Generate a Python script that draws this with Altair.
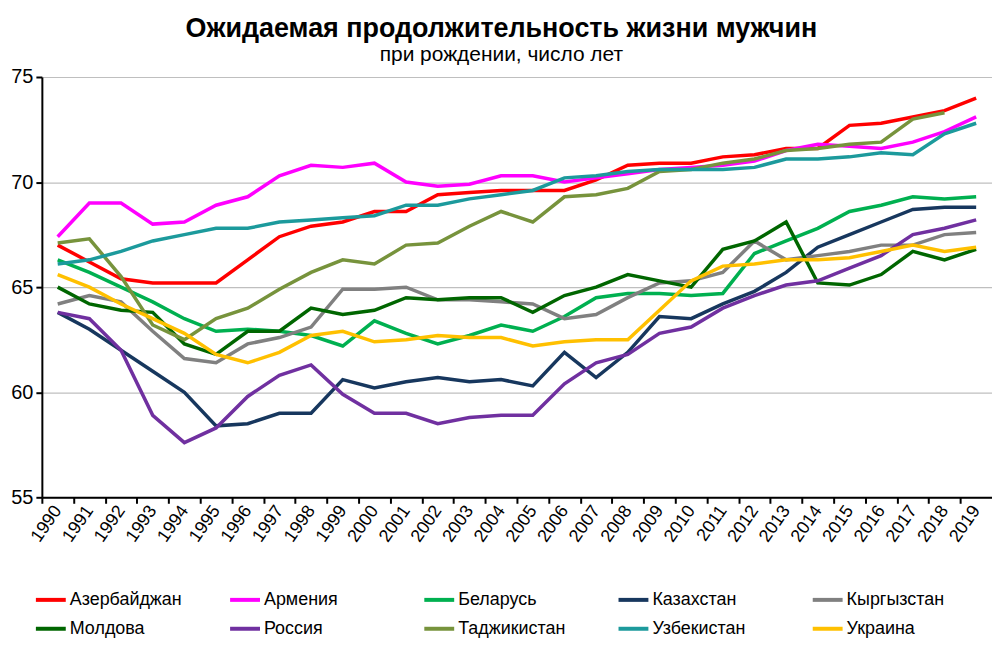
import altair as alt
import pandas as pd

years = list(range(1990, 2020))

countries = ["Азербайджан", "Армения", "Беларусь", "Казахстан", "Кыргызстан",
             "Молдова", "Россия", "Таджикистан", "Узбекистан", "Украина"]
colors = ["#FF0000", "#FF00FF", "#00B050", "#17375E", "#808080",
          "#006600", "#7030A0", "#77933C", "#1C9A9C", "#FFC000"]

azerbaijan = [67.0, 66.2, 65.4, 65.2, 65.2, 65.2, 66.3, 67.4, 67.9, 68.1, 68.6, 68.6, 69.4, 69.5, 69.6,
              69.6, 69.6, 70.1, 70.8, 70.9, 70.9, 71.2, 71.3, 71.6, 71.6, 72.7, 72.8, 73.1, 73.4, 74.0]
armenia = [67.4, 69.0, 69.0, 68.0, 68.1, 68.9, 69.3, 70.3, 70.8, 70.7, 70.9, 70.0, 69.8, 69.9, 70.3,
           70.3, 70.0, 70.2, 70.4, 70.6, 70.7, 70.8, 71.0, 71.5, 71.8, 71.7, 71.6, 71.9, 72.4, 73.1]
belarus = [66.3, 65.7, 65.0, 64.3, 63.5, 62.9, 63.0, 62.9, 62.7, 62.2, 63.4, 62.8, 62.3, 62.7, 63.2,
           62.9, 63.6, 64.5, 64.7, 64.7, 64.6, 64.7, 66.6, 67.2, 67.8, 68.6, 68.9, 69.3, 69.2, 69.3]
kazakhstan = [63.8, 63.0, 62.0, 61.0, 60.0, 58.4, 58.5, 59.0, 59.0, 60.6, 60.2, 60.5, 60.7, 60.5, 60.6,
              60.3, 61.9, 60.7, 61.9, 63.6, 63.5, 64.2, 64.8, 65.7, 66.9, 67.5, 68.1, 68.7, 68.8, 68.8]
kyrgyzstan = [64.2, 64.6, 64.3, 62.9, 61.6, 61.4, 62.3, 62.6, 63.1, 64.9, 64.9, 65.0, 64.4, 64.4, 64.3,
              64.2, 63.5, 63.7, 64.5, 65.2, 65.3, 65.7, 67.2, 66.3, 66.5, 66.7, 67.0, 67.0, 67.5, 67.6]
moldova = [65.0, 64.2, 63.9, 63.8, 62.3, 61.8, 62.9, 62.9, 64.0, 63.7, 63.9, 64.5, 64.4, 64.5, 64.5,
           63.8, 64.6, 65.0, 65.6, 65.3, 65.0, 66.8, 67.2, 68.1, 65.2, 65.1, 65.6, 66.7, 66.3, 66.8]
russia = [63.8, 63.5, 62.0, 58.9, 57.6, 58.3, 59.8, 60.8, 61.3, 59.9, 59.0, 59.0, 58.5, 58.8, 58.9,
          58.9, 60.4, 61.4, 61.8, 62.8, 63.1, 64.0, 64.6, 65.1, 65.3, 65.9, 66.5, 67.5, 67.8, 68.2]
tajikistan = [67.1, 67.3, 65.5, 63.2, 62.5, 63.5, 64.0, 64.9, 65.7, 66.3, 66.1, 67.0, 67.1, 67.9, 68.6,
              68.1, 69.3, 69.4, 69.7, 70.5, 70.6, 70.9, 71.1, 71.5, 71.6, 71.8, 71.9, 73.0, 73.3, None]
uzbekistan = [66.1, 66.3, 66.7, 67.2, 67.5, 67.8, 67.8, 68.1, 68.2, 68.3, 68.4, 68.9, 68.9, 69.2, 69.4,
              69.6, 70.2, 70.3, 70.5, 70.6, 70.6, 70.6, 70.7, 71.1, 71.1, 71.2, 71.4, 71.3, 72.3, 72.8]
ukraine = [65.6, 65.0, 64.2, 63.5, 62.8, 61.8, 61.4, 61.9, 62.7, 62.9, 62.4, 62.5, 62.7, 62.6, 62.6,
           62.2, 62.4, 62.5, 62.5, 63.9, 65.3, 66.0, 66.1, 66.3, 66.3, 66.4, 66.7, 67.0, 66.7, 66.9]

series = [azerbaijan, armenia, belarus, kazakhstan, kyrgyzstan,
          moldova, russia, tajikistan, uzbekistan, ukraine]

rows = []
for name, vals in zip(countries, series):
    for y, v in zip(years, vals):
        if v is not None:
            rows.append({"country": name, "year": y, "value": v})
df = pd.DataFrame(rows)

FONT = "Liberation Sans"

chart = alt.Chart(df).mark_line(strokeWidth=3.5).encode(
    x=alt.X("year:Q",
            scale=alt.Scale(domain=[1989.5, 2019.5], nice=False, zero=False),
            axis=alt.Axis(values=years, format="d", title=None, labelAngle=-55,
                          labelFontSize=18, labelFont=FONT, labelColor="#000000",
                          domainColor="#000000", domainWidth=2, tickColor="#000000",
                          tickWidth=2, tickSize=6, grid=False, labelPadding=4,
                          labelAlign="right", labelBaseline="middle",
                          tickOffset=-15.9, labelOffset=15.9, labelFlush=False,
                          labelOverlap=False)),
    y=alt.Y("value:Q",
            scale=alt.Scale(domain=[55, 75], nice=False, zero=False),
            axis=alt.Axis(values=[55, 60, 65, 70, 75], title=None,
                          labelFontSize=20, labelFont=FONT, labelColor="#000000",
                          domainColor="#000000", domainWidth=2, tickColor="#000000",
                          tickWidth=2, tickSize=6, gridColor="#BFBFBF", gridWidth=1.2,
                          labelPadding=3)),
    color=alt.Color("country:N",
                    scale=alt.Scale(domain=countries, range=colors),
                    legend=alt.Legend(title=None, orient="none", legendX=-8, legendY=508,
                                      direction="horizontal", columns=5,
                                      symbolType="stroke", symbolSize=900,
                                      symbolStrokeWidth=4, labelFontSize=18,
                                      labelFont=FONT, labelColor="#000000",
                                      labelOffset=2, gridAlign="all",
                                      columnPadding=40, rowPadding=3,
                                      labelLimit=200)),
    detail="country:N",
).properties(
    width=954,
    height=422,
    padding={"left": 2, "top": 6, "right": 0, "bottom": 0},
    title=alt.TitleParams(
        text="Ожидаемая продолжительность жизни мужчин",
        subtitle="при рождении, число лет",
        font=FONT, fontSize=27, fontWeight="bold", color="#000000",
        subtitleFont=FONT, subtitleFontSize=21, subtitleColor="#000000",
        subtitlePadding=1, anchor="middle", frame="bounds", offset=1,
    ),
).configure_view(stroke=None)

chart.save("out.html", embed_options={"renderer": "svg", "actions": False})
